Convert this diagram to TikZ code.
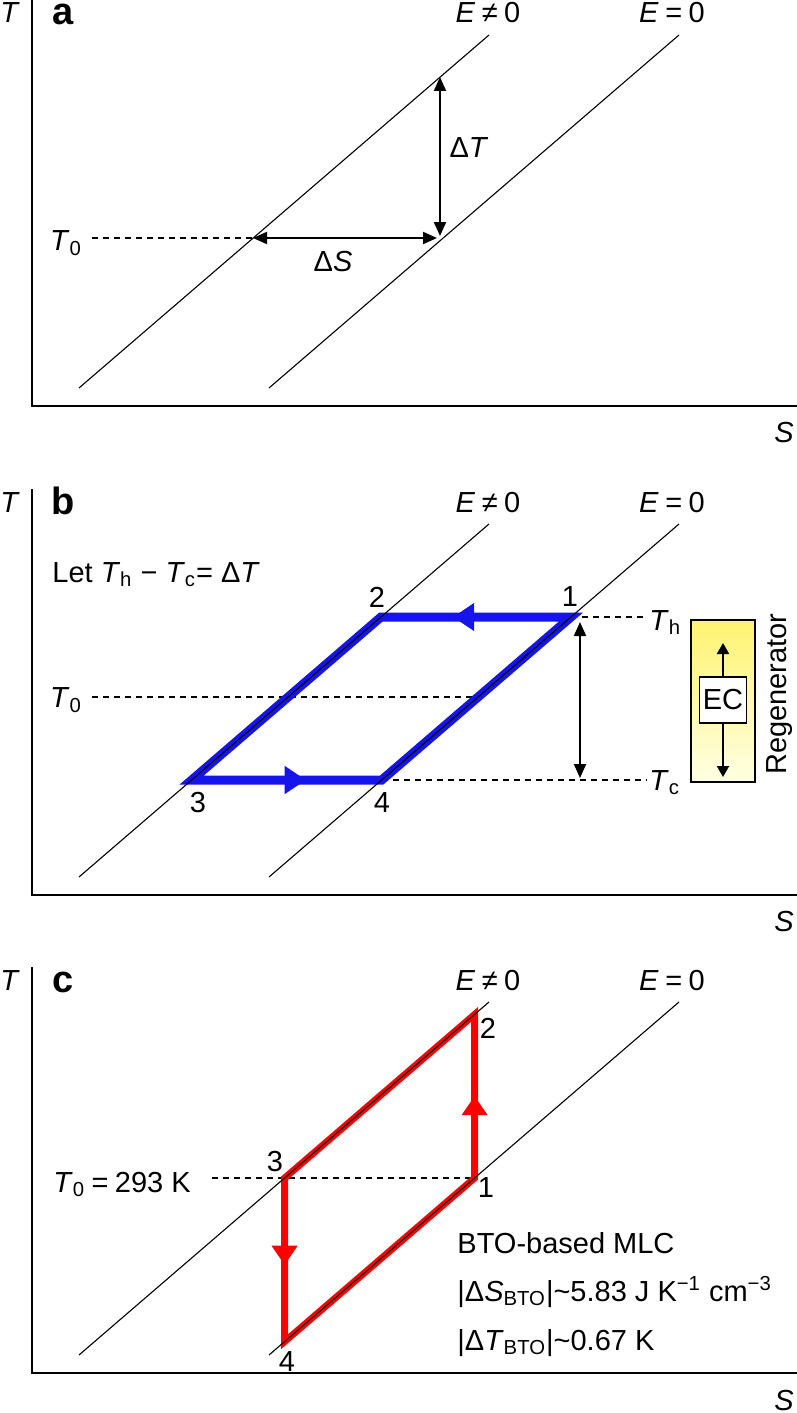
\documentclass[tikz,border=0pt]{standalone}
\usepackage{fontspec}
\setmainfont{Liberation Sans}
\usetikzlibrary{arrows.meta,decorations.markings}
\definecolor{cycblue}{RGB}{20,20,235}
\definecolor{cycred}{RGB}{255,0,0}
\definecolor{regtop}{RGB}{255,243,112}
\definecolor{regbot}{RGB}{255,255,228}
\newcommand\itx[1]{\textit{#1}}
\newcommand\drawframe[2]{%
  \coordinate (#1top) at (32,0);
  \coordinate (#1org) at (32,406);
  \coordinate (#1end) at (797,406);
  \draw[axisline] (#1top) -- (#1org) -- (#1end);
  \node[lbl,anchor=base] (#1Tlab) at (10,23) {\itx{T}};
  \node[panellbl] (#1name) at (63,25) {#2};
  \node[lbl,anchor=base] (#1Ene) at (488,23) {\itx{E}\:≠\:0};
  \node[lbl,anchor=base] (#1Eeq) at (672,23) {\itx{E}\:=\:0};
  \node[lbl] (#1Slab) at (784,433) {\itx{S}};
  \coordinate (#1n1) at (79,388);
  \coordinate (#1n2) at (489,35);
  \coordinate (#1z1) at (269,388);
  \coordinate (#1z2) at (679,35);
}
\newcommand\drawiso[1]{%
  \draw[isoline] (#1n1) -- (#1n2);
  \draw[isoline] (#1z1) -- (#1z2);
}
\begin{document}
\begin{tikzpicture}[x=0.5pt,y=-0.5pt,
  lbl/.style={font=\fontsize{14.5}{17}\selectfont, inner sep=0pt},
  panellbl/.style={font=\fontsize{19}{21}\selectfont\bfseries, inner sep=0pt, anchor=base},
  axisline/.style={line width=0.85pt},
  isoline/.style={line width=0.55pt},
  dashline/.style={line width=0.6pt, dash pattern=on 3pt off 2.5pt},
  blkarrow/.style={line width=1pt, {Triangle[length=7pt,width=6pt]}-{Triangle[length=7pt,width=6pt]}},
  ecarrow/.style={line width=1pt, -{Triangle[length=5.5pt,width=6pt]}},
  bluecyc/.style={draw=cycblue, line width=4.5pt, line join=miter},
  redcyc/.style={draw=cycred, line width=3.4pt, line join=miter},
  bluehead/.style={decoration={markings, mark=at position #1 with {\arrow{Triangle[length=10.5pt,width=14pt]}}}, postaction={decorate}, draw=none, color=cycblue},
  redhead/.style={decoration={markings, mark=at position #1 with {\arrow{Triangle[length=9.5pt,width=13pt]}}}, postaction={decorate}, draw=none, color=cycred},
]
\useasboundingbox (0,0) rectangle (797,1413);
\fill[white] (0,0) rectangle (797,1413);

% ---------------- panel a ----------------
\begin{scope}
  \drawframe{a}{a}
  \drawiso{a}
  \coordinate (aTtop) at (440,77);
  \coordinate (aTbot) at (440,236);
  \coordinate (aSl) at (253,238);
  \coordinate (aSr) at (437,238);
  \coordinate (aD0) at (92,238);
  \draw[dashline] (aD0) -- (aSl);
  \draw[blkarrow] (aTtop) -- (aTbot);
  \draw[blkarrow] (aSl) -- (aSr);
  \node[lbl] (aDT) at (469,148) {Δ\itx{T}};
  \node[lbl] (aDS) at (333,262) {Δ\itx{S}};
  \node[lbl] (aT0) at (66,243) {\itx{T}\textsubscript{0}};
\end{scope}

% ---------------- panel b ----------------
\begin{scope}[shift={(0,489)}]
  \drawframe{b}{b}
  \coordinate (b1) at (571,128);
  \coordinate (b2) at (381,128);
  \coordinate (b3) at (191.7,291);
  \coordinate (b4) at (381.7,291);
  \coordinate (bD0) at (92,208);
  \coordinate (bD0e) at (478,208);
  \coordinate (bThe) at (647,128);
  \coordinate (bTce) at (647,291);
  \draw[dashline] (bD0) -- (bD0e);
  \draw[dashline] (b1) -- (bThe);
  \draw[dashline] (b4) -- (bTce);
  \draw[bluecyc] (b1) -- (b2) -- (b3) -- (b4) -- cycle;
  \path[bluehead=0.62] (b1) -- (b2);
  \path[bluehead=0.6] (b3) -- (b4);
  \drawiso{b}
  \coordinate (bAt) at (580,133);
  \coordinate (bAb) at (580,289);
  \draw[blkarrow] (bAt) -- (bAb);
  \node[lbl,anchor=base west] (bLet) at (52,93) {Let \itx{T}\textsubscript{h} − \itx{T}\textsubscript{c}= Δ\itx{T}};
  \node[lbl] (bn1) at (570,108) {1};
  \node[lbl] (bn2) at (377,108) {2};
  \node[lbl] (bn3) at (198,314) {3};
  \node[lbl] (bn4) at (382,314) {4};
  \node[lbl] (bT0) at (66,211) {\itx{T}\textsubscript{0}};
  \node[lbl,anchor=base west] (bTh) at (649,141) {\itx{T}\textsubscript{h}};
  \node[lbl,anchor=base west] (bTc) at (649,301) {\itx{T}\textsubscript{c}};
  \node[draw, line width=0.6pt, top color=regtop, bottom color=regbot, minimum width=32pt, minimum height=81pt, inner sep=0pt] (bReg) at (723,212) {};
  \node[lbl, draw, line width=0.6pt, fill=white, minimum width=23.5pt, minimum height=23pt] (bEC) at (723,211) {EC};
  \coordinate (bUp) at (723,154);
  \coordinate (bDn) at (723,288);
  \draw[ecarrow] (bEC.north) -- (bUp);
  \draw[ecarrow] (bEC.south) -- (bDn);
  \node[lbl, rotate=90] (bRegtxt) at (780,205) {Regenerator};
\end{scope}

% ---------------- panel c ----------------
\begin{scope}[shift={(0,967)}]
  \drawframe{c}{c}
  \coordinate (c1) at (474.6,211);
  \coordinate (c2) at (474.6,47.4);
  \coordinate (c3) at (284.6,211);
  \coordinate (c4) at (284.6,374.6);
  \coordinate (cD0) at (212,211);
  \draw[dashline] (cD0) -- (c1);
  \draw[redcyc] (c1) -- (c2) -- (c3) -- (c4) -- cycle;
  \path[redhead=0.5] (c1) -- (c2);
  \path[redhead=0.53] (c3) -- (c4);
  \drawiso{c}
  \node[lbl] (cn1) at (486,221) {1};
  \node[lbl] (cn2) at (488,61) {2};
  \node[lbl] (cn3) at (275,195) {3};
  \node[lbl] (cn4) at (287,395) {4};
  \node[lbl,anchor=base west] (cT0) at (53,225) {\itx{T}\textsubscript{0}\:=\:293 K};
  \node[lbl,anchor=base west] (cL1) at (457,286) {BTO-based MLC};
  \node[lbl,anchor=base west] (cL2) at (457,334) {|Δ\itx{S}\textsubscript{BTO}|\textasciitilde 5.83 J K\textsuperscript{−1} cm\textsuperscript{−3}};
  \node[lbl,anchor=base west] (cL3) at (457,383) {|Δ\itx{T}\textsubscript{BTO}|\textasciitilde 0.67 K};
\end{scope}
\end{tikzpicture}
\end{document}
